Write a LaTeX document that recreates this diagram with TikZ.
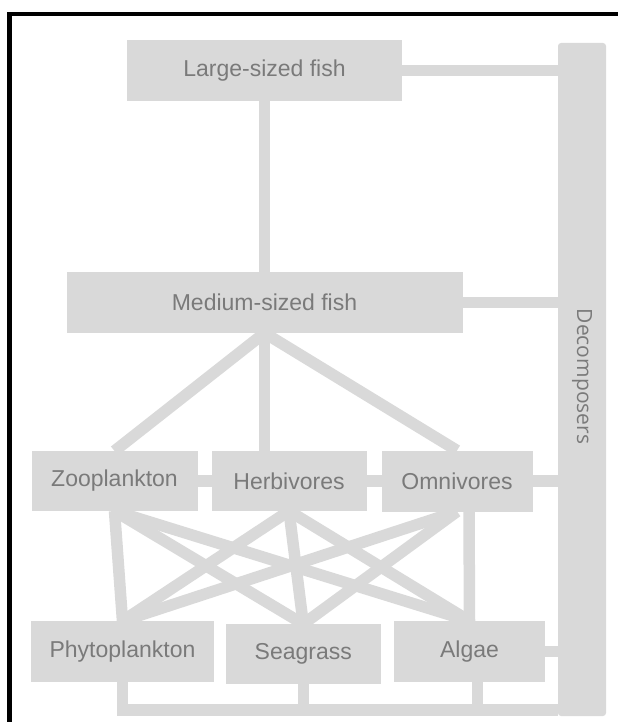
\documentclass[tikz,border=0pt]{standalone}
\usepackage{fontspec}
\setmainfont{Liberation Sans}
\newfontfamily\decfont{Open Sans}
\usepackage{tikz}
\usetikzlibrary{positioning,backgrounds}
\definecolor{boxgray}{HTML}{D9D9D9}
\definecolor{txtgray}{HTML}{7A7A7A}

\begin{document}
\begin{tikzpicture}[
  x=1pt, y=-1pt,
  font=\fontsize{23}{27}\selectfont,
  box/.style={fill=boxgray, text=txtgray, minimum width=#1, minimum height=61pt,
              inner sep=0pt, outer sep=0pt},
  link/.style={draw=boxgray, line width=11.5pt},
  declab/.style={rotate=-90, text=txtgray, font=\decfont\fontsize{21}{24}\selectfont}
]
\useasboundingbox (0,0) rectangle (618,722);
\draw[line width=4.5pt] (9.5,722) -- (9.5,14) -- (618,14);

% Fish
\node[box=275pt] at (264.5,70.5) (large) {Large-sized fish};
\node[box=396pt, below=171pt of large] (medium) {Medium-sized fish};

% Consumers
\node[box=166pt, minimum height=60pt, below=118pt of medium, xshift=-150pt] (zoo) {Zooplankton};
\node[box=155pt, minimum height=60pt, right=14pt of zoo] (herb) {Herbivores};
\node[box=151pt, right=15pt of herb] (omni) {Omnivores};

% Producers
\node[box=182.5pt, below=110pt of zoo, xshift=8pt] (phyto) {Phytoplankton};
\node[box=155pt, minimum height=60pt, right=12pt of phyto, yshift=-2.5pt] (seagrass) {Seagrass};
\node[box=150.5pt, right=13.5pt of seagrass, yshift=2.5pt] (algae) {Algae};

% Decomposers
\node[box=48pt, minimum height=673pt, rounded corners=3pt,
      right=156pt of large.north east, anchor=north west, yshift=-3pt] (bar) {};
\node[declab, xshift=-3pt] at (bar.center) (dec) {Decomposers};

% Edges
\begin{scope}[on background layer]
\draw[link] (large.south) -- (large.south |- medium.north);
\draw[link] (large.east) -- (large.east -| bar.west);
\draw[link] (medium.east) -- (medium.east -| bar.west);
\draw[link] (medium.south) -- (zoo.north);
\draw[link] (medium.south) -- (medium.south |- herb.north);
\draw[link] (medium.south) -- (omni.north);
\draw[link] (zoo) -- (herb);
\draw[link] (herb) -- (omni);
\draw[link] (omni.east) -- (omni.east -| bar.west);
\foreach \u in {zoo,herb} {
  \foreach \l in {phyto,seagrass,algae} { \draw[link] (\u.south) -- (\l.north); }
}
\draw[link] (omni.south) -- (phyto.north);
\draw[link] (omni.south) -- (seagrass.north);
\draw[link] ([xshift=12pt]omni.south) -- (algae.north);
\draw[link] (algae.east) -- (algae.east -| bar.west);
\coordinate (bus) at ([yshift=6pt]bar.south west);
\draw[link] (phyto.south) |- (bus);
\draw[link] (seagrass.south) -- (seagrass.south |- bus);
\draw[link] ([xshift=8pt]algae.south) -- ([xshift=8pt]algae.south |- bus);
\end{scope}
\end{tikzpicture}
\end{document}
